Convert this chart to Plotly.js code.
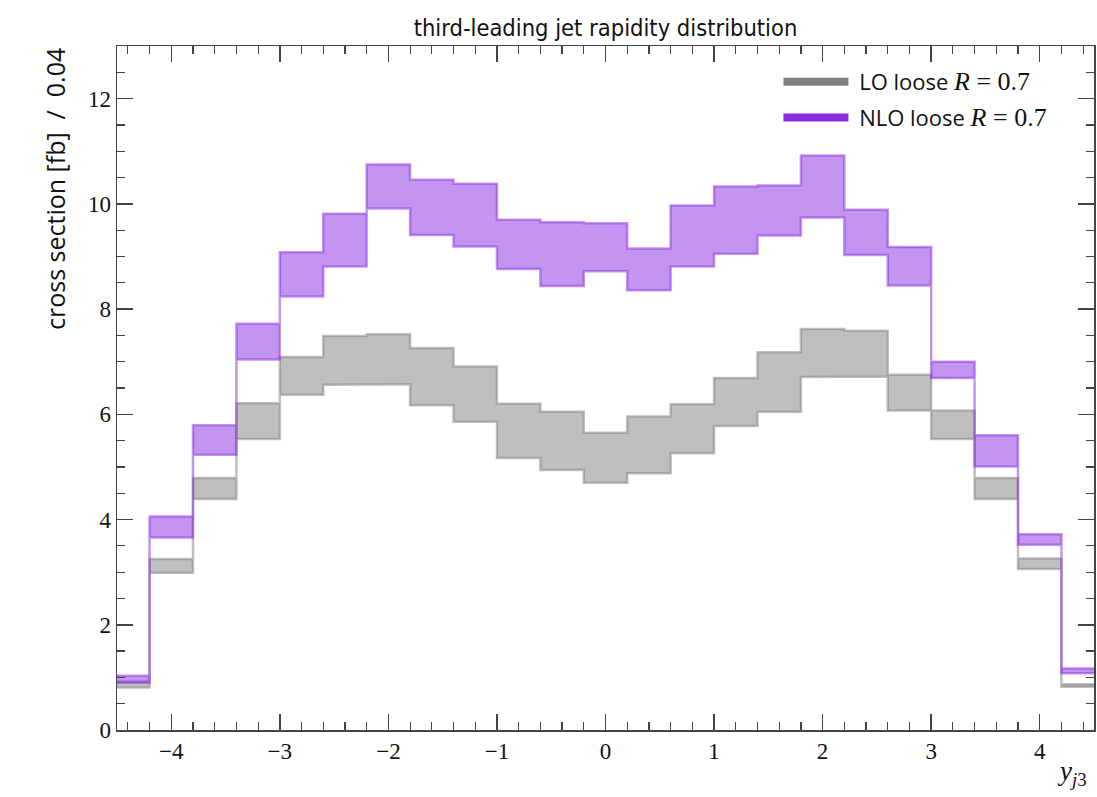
<!DOCTYPE html>
<html>
<head>
<meta charset="utf-8">
<script src="https://cdn.plot.ly/plotly-3.0.1.min.js"></script>
<style>html,body{margin:0;padding:0;background:#fff;}#chart{width:1097px;height:797px;}</style>
</head>
<body>
<div id="chart"></div>
<script>
// Bin edges of the rapidity histogram (y_j3)
const binEdges = [-4.6,-4.2,-3.8,-3.4,-3.0,-2.6,-2.2,-1.8,-1.4,-1.0,-0.6,-0.2,0.2,0.6,1.0,1.4,1.8,2.2,2.6,3.0,3.4,3.8,4.2,4.6];

// LO loose R=0.7 scale-variation band (fb / 0.04)
const loLower = [0.81,2.99,4.39,5.53,6.37,6.56,6.57,6.17,5.86,5.17,4.94,4.70,4.88,5.26,5.78,6.05,6.71,6.72,6.07,5.53,4.39,3.06,0.82];
const loUpper = [0.92,3.25,4.79,6.21,7.09,7.49,7.52,7.26,6.91,6.20,6.05,5.65,5.96,6.19,6.69,7.18,7.62,7.59,6.75,6.07,4.79,3.26,0.87];

// NLO loose R=0.7 scale-variation band (fb / 0.04)
const nloLower = [0.90,3.66,5.23,7.04,8.24,8.81,9.91,9.41,9.19,8.76,8.44,8.72,8.36,8.81,9.05,9.40,9.74,9.03,8.45,6.69,5.01,3.52,1.08];
const nloUpper = [1.03,4.06,5.79,7.72,9.08,9.81,10.75,10.46,10.38,9.70,9.65,9.63,9.15,9.97,10.33,10.35,10.92,9.89,9.18,7.00,5.60,3.72,1.17];

const mathR = '<span style="font-family:\'Liberation Serif\',serif;font-size:26px"><i>R</i>&nbsp;=&nbsp;0.7</span>';
const seriesNames = ['&nbsp;LO loose ' + mathR, '&nbsp;NLO loose ' + mathR];

function bandOutline(edges, lo, up) {
  const x = [], y = [];
  for (let i = 0; i < up.length; i++) {
    x.push(edges[i], edges[i + 1]);
    y.push(up[i], up[i]);
  }
  for (let i = lo.length - 1; i >= 0; i--) {
    x.push(edges[i + 1], edges[i]);
    y.push(lo[i], lo[i]);
  }
  x.push(x[0]); y.push(y[0]);
  return {x, y};
}

const grayRGB = '128,128,128';
const purpleRGB = '138,43,226';

const loBand = bandOutline(binEdges, loLower, loUpper);
const nloBand = bandOutline(binEdges, nloLower, nloUpper);

const traces = [
  {x: loBand.x, y: loBand.y, type: 'scatter', mode: 'lines', fill: 'toself',
   fillcolor: 'rgba(' + grayRGB + ',0.5)', line: {color: 'rgba(' + grayRGB + ',0.5)', width: 2.5},
   showlegend: false, hoverinfo: 'skip'},
  {x: nloBand.x, y: nloBand.y, type: 'scatter', mode: 'lines', fill: 'toself',
   fillcolor: 'rgba(' + purpleRGB + ',0.5)', line: {color: 'rgba(' + purpleRGB + ',0.5)', width: 2.5},
   showlegend: false, hoverinfo: 'skip'},
  {x: [null], y: [null], type: 'scatter', mode: 'lines', name: seriesNames[0],
   line: {color: 'rgb(' + grayRGB + ')', width: 8}, legendgroup: 'a'},
  {x: [null], y: [null], type: 'scatter', mode: 'lines', name: seriesNames[1],
   line: {color: 'rgb(' + purpleRGB + ')', width: 8}, legendgroup: 'b'}
];

const axisCommon = {
  showline: true, linecolor: '#444', linewidth: 1.5, mirror: 'allticks',
  ticks: 'inside', ticklen: 16, tickwidth: 1.5, tickcolor: '#444',
  showgrid: false, zeroline: false,
  tickfont: {family: 'Liberation Serif, serif', size: 23, color: '#111'}
};

const layout = {
  width: 1097, height: 797,
  margin: {l: 117, r: 3, t: 46, b: 67, pad: 0},
  paper_bgcolor: '#fff', plot_bgcolor: '#fff',
  title: {text: 'third-leading jet rapidity distribution',
          font: {family: 'DejaVu Sans Condensed, DejaVu Sans, sans-serif', size: 23.5, color: '#111'},
          x: 0.5, xref: 'paper', xanchor: 'center', y: 1 - 28 / 797, yanchor: 'middle'},
  xaxis: Object.assign({}, axisCommon, {
    range: [-4.5, 4.5], tick0: 0, dtick: 1,
    minor: {dtick: 0.2, ticklen: 8, ticks: 'inside', tickwidth: 1.2, tickcolor: '#444'}
  }),
  yaxis: Object.assign({}, axisCommon, {
    range: [0, 13], tick0: 0, dtick: 2,
    minor: {dtick: 0.5, ticklen: 8, ticks: 'inside', tickwidth: 1.2, tickcolor: '#444'}
  }),
  showlegend: true,
  legend: {x: 0.677, y: 0.978, xanchor: 'left', yanchor: 'top',
           font: {family: 'Open Sans, sans-serif', size: 22, color: '#111'},
           bgcolor: 'rgba(255,255,255,0)', borderwidth: 0, tracegroupgap: 4,
           itemwidth: 65},
  annotations: [
    {text: 'cross section [fb]  /  0.04', textangle: -90, xref: 'paper', yref: 'paper',
     x: (55 - 117) / 977, y: 1, xanchor: 'center', yanchor: 'top', showarrow: false,
     font: {family: 'Open Sans, sans-serif', size: 25, color: '#111'}},
    {text: '<i>y</i><sub><i>j</i>3</sub>', xref: 'paper', yref: 'paper',
     x: 0.995, y: (730 - 773) / 684, xanchor: 'right', yanchor: 'middle', showarrow: false,
     font: {family: 'Liberation Serif, serif', size: 27, color: '#111'}}
  ]
};

Plotly.newPlot('chart', traces, layout, {displayModeBar: false, staticPlot: true});
</script>
</body>
</html>
